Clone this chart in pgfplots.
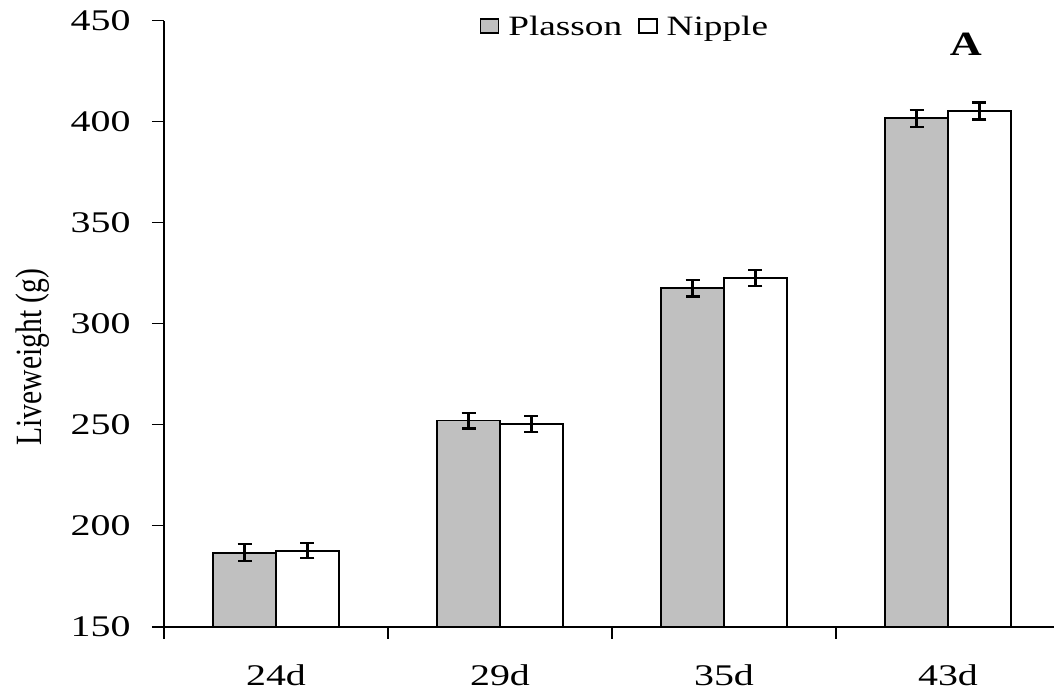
\documentclass[border=0pt]{standalone}
\usepackage{fontspec}
\setmainfont{Liberation Serif}
\newfontfamily\tickfont[FakeStretch=1.33]{Liberation Serif}
\newfontfamily\labfont[FakeStretch=0.8]{Liberation Serif}
\newfontfamily\boldfont[FakeStretch=1.3]{Liberation Serif}
\usepackage{pgfplots}
\pgfplotsset{compat=1.18}
\definecolor{plassongray}{RGB}{192,192,192}
\begin{document}
\begin{tikzpicture}
\begin{axis}[
  name=ax,
  scale only axis,
  width=896bp, height=606bp,
  xmin=-0.5, xmax=3.5,
  ymin=150, ymax=450,
  ybar=0pt, bar width=0.281,
  ytick={150,200,...,450},
  xtick={-0.5,0.5,1.5,2.5},
  xticklabels={},
  extra x ticks={0,1,2,3},
  extra x tick labels={24d,29d,35d,43d},
  extra x tick style={major tick length=0pt, xticklabel style={yshift=-34bp}},
  axis x line*=bottom, axis y line*=left,
  tick align=outside,
  major tick length=12bp,
  tick style={black, line width=1.6bp},
  axis line style={black, line width=1.6bp},
  /pgf/number format/assume math mode=true,
  ticklabel style={font=\tickfont\fontsize{30bp}{30bp}\selectfont},
  yticklabel style={xshift=-18bp},
  ylabel={Liveweight (g)},
  ylabel style={font=\labfont\fontsize{37bp}{37bp}\selectfont, at={(axis description cs:-0.147,0.445)}, anchor=center, rotate=0},
  legend style={draw=none, fill=none, at={(axis description cs:0.5145,0.991)}, anchor=center,
    font=\tickfont\fontsize{28bp}{28bp}\selectfont, inner sep=0pt,
    nodes={inner xsep=2bp},
    /tikz/every even column/.append style={column sep=14bp}},
  legend columns=2,
  legend image code/.code={\draw[#1, line width=1.4bp] (0bp,-7bp) rectangle (18bp,7bp); \path (25bp,0bp);},
  error bars/y dir=both, error bars/y explicit,
  error bars/error bar style={line width=2.2bp, black, solid},
  error bars/error mark options={rotate=90, mark size=7bp, line width=2.2bp, black, solid},
  clip=false,
]
\addplot[fill=plassongray, draw=black, line width=1.6bp]
  coordinates {(0,186.6) +- (0,4.2) (1,252.0) +- (0,3.9) (2,317.6) +- (0,4.1) (3,401.7) +- (0,4.2)};
\addlegendentry{Plasson}
\addplot[fill=white, draw=black, line width=1.6bp]
  coordinates {(0,187.6) +- (0,3.7) (1,250.3) +- (0,3.9) (2,322.6) +- (0,4.1) (3,405.3) +- (0,4.2)};
\addlegendentry{Nipple}
\node[font=\boldfont\bfseries\fontsize{34bp}{34bp}\selectfont] at (axis description cs:0.895,0.9616) {A};
\end{axis}
\pgfresetboundingbox
\path ([xshift=-164bp,yshift=-71.3bp]ax.south west) rectangle ([xshift=-6bp,yshift=20.7bp]ax.north east);
\end{tikzpicture}
\end{document}
